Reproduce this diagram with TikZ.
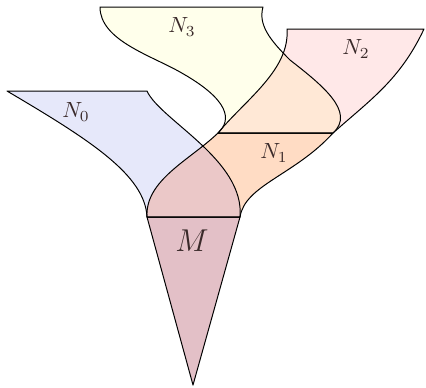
\documentclass[tikz,border=0pt]{standalone}
\usepackage{amsmath,amssymb}
\usepackage{xcolor}
\usepackage{tikz}
\usetikzlibrary{calc}
\definecolor{NbZero}{HTML}{E6E8FA}
\definecolor{NbOne}{HTML}{FFDCC4}
\definecolor{NbZeroOne}{HTML}{EBC8C8}
\definecolor{NbTwo}{HTML}{FFE8E8}
\definecolor{NbThree}{HTML}{FFFFEB}
\definecolor{NbTwoThree}{HTML}{FFE8D6}
\definecolor{MFill}{HTML}{E3C0C7}
\definecolor{LabInk}{HTML}{3A2A2A}

\newcommand{\pathNzero}{(7,91) -- (147,91) .. controls (160,120) and (245,160) .. (Mr) -- (Ml) .. controls (145,175) and (90,140) .. (7,91) -- cycle}
\newcommand{\pathNone}{(Ml) .. controls (145,180) and (190,160) .. (Tl) -- (Tr) .. controls (295,175) and (245,185) .. (Mr) -- cycle}
\newcommand{\pathNtwo}{(287,29) -- (424,29) .. controls (400,80) and (370,100) .. (Tr) -- (Tl) .. controls (245,100) and (290,70) .. (287,29) -- cycle}
\newcommand{\pathNthree}{(100,7) -- (263,7) .. controls (258,25) and (270,40) .. (290,60) .. controls (322,85) and (356,112) .. (Tr) -- (Tl) .. controls (232,120) and (230,100) .. (180,72) .. controls (150,55) and (100,40) .. (100,7) -- cycle}
\newcommand{\pathM}{(Ml) -- (Mr) -- (Mb) -- cycle}

\begin{document}
\begin{tikzpicture}[
  x=0.016cm,y=-0.016cm,
  outline/.style={draw=black,line width=0.45pt,line join=round},
  lab/.style={font=\normalsize,text=LabInk,inner sep=0pt},
  bigLab/.style={font=\Large,text=LabInk,inner sep=0pt}
]
\useasboundingbox (0,0) rectangle (426,387);
\coordinate (Ml) at (147,217);
\coordinate (Mr) at (240,217);
\coordinate (Mb) at (193,385);
\coordinate (Tl) at (218,133);
\coordinate (Tr) at (333,133);

% fills
\fill[NbZero] \pathNzero;
\fill[NbOne] \pathNone;
\begin{scope}
  \clip \pathNzero;
  \fill[NbZeroOne] \pathNone;
\end{scope}
\fill[NbTwo] \pathNtwo;
\fill[NbThree] \pathNthree;
\begin{scope}
  \clip \pathNtwo;
  \fill[NbTwoThree] \pathNthree;
\end{scope}
\fill[MFill] \pathM;

% outlines
\draw[outline] \pathNzero;
\draw[outline] \pathNone;
\draw[outline] \pathNtwo;
\draw[outline] \pathNthree;
\draw[outline] \pathM;

\node[lab] (labN0) at (76,112) {$N_0$};
\node[lab] (labN1) at (274,153) {$N_1$};
\node[lab] (labN2) at (356,49) {$N_2$};
\node[lab] (labN3) at (182,27) {$N_3$};
\node[bigLab] (labM) at (192,241) {$M$};
\end{tikzpicture}
\end{document}
